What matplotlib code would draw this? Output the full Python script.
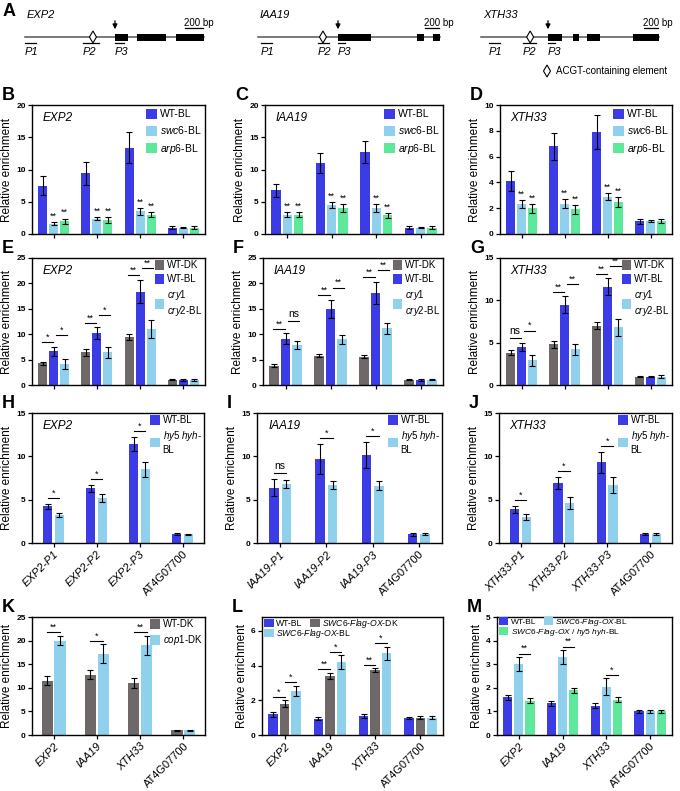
import numpy as np
import matplotlib.pyplot as plt
from matplotlib.patches import Polygon, Patch
from matplotlib.legend import Legend

plt.rcParams['font.family'] = ['Liberation Sans', 'DejaVu Sans']
plt.rcParams['mathtext.fontset'] = 'custom'
plt.rcParams['mathtext.it'] = 'Liberation Sans:italic'
plt.rcParams['mathtext.rm'] = 'Liberation Sans'
plt.rcParams['axes.linewidth'] = 1.0

W, H = 680, 791
fig = plt.figure(figsize=(6.8, 7.91), dpi=100)

# colours
BLUE = '#3c3ce6'
LBLUE = '#8fd0ec'
GREEN = '#5ee89b'
GRAY = '#6e6868'

# ---- panel A gene structures (bp, relative to TSS)
gene_names = ['EXP2', 'IAA19', 'XTH33']
gene_start = [-1000, -1145, -955]
gene_end = [990, 1460, 1585]
gene_exons = [[(0, 145), (245, 565), (680, 990)],
              [(0, 470), (1130, 1230), (1360, 1460)],
              [(0, 200), (355, 445), (555, 745), (1215, 1585)]]
acgt_pos = [-245, -215, -255]
primers = [[(-1000, -880), (-355, -180), (0, 100)],
           [(-1100, -945), (-285, -130), (0, 100)],
           [(-845, -685), (-355, -170), (0, 100)]]
primer_names = ['P1', 'P2', 'P3']

# ---- ChIP data
probes = {'EXP2': ['EXP2-P1', 'EXP2-P2', 'EXP2-P3', 'AT4G07700'],
          'IAA19': ['IAA19-P1', 'IAA19-P2', 'IAA19-P3', 'AT4G07700'],
          'XTH33': ['XTH33-P1', 'XTH33-P2', 'XTH33-P3', 'AT4G07700']}

# B-D: WT-BL, swc6-BL, arp6-BL
b_wt = [7.5, 9.4, 13.4, 1.0];   b_wt_e = [1.5, 1.8, 2.4, 0.3]
b_swc = [1.6, 2.4, 3.5, 1.0];   b_swc_e = [0.2, 0.3, 0.5, 0.1]
b_arp = [2.0, 2.2, 3.0, 1.0];   b_arp_e = [0.4, 0.5, 0.4, 0.2]
c_wt = [6.8, 11.0, 12.7, 1.0];  c_wt_e = [1.0, 1.5, 1.7, 0.2]
c_swc = [3.0, 4.5, 4.0, 1.0];   c_swc_e = [0.4, 0.5, 0.6, 0.1]
c_arp = [3.0, 4.0, 2.9, 1.0];   c_arp_e = [0.4, 0.6, 0.4, 0.2]
d_wt = [4.1, 6.8, 7.9, 1.0];    d_wt_e = [0.75, 1.05, 1.3, 0.2]
d_swc = [2.3, 2.35, 2.9, 1.0];  d_swc_e = [0.3, 0.35, 0.3, 0.1]
d_arp = [2.0, 1.9, 2.5, 1.0];   d_arp_e = [0.35, 0.35, 0.4, 0.15]

# E-G: WT-DK, WT-BL, cry1 cry2-BL
e_dk = [4.3, 6.4, 9.5, 1.0];    e_dk_e = [0.3, 0.6, 0.6, 0.1]
e_bl = [6.6, 10.2, 18.4, 1.0];  e_bl_e = [0.9, 1.2, 2.3, 0.2]
e_cry = [4.2, 6.4, 11.0, 1.0];  e_cry_e = [1.0, 1.0, 1.7, 0.2]
e_sig = [('*', '*'), ('**', '*'), ('**', '**')]
f_dk = [3.8, 5.8, 5.6, 1.0];    f_dk_e = [0.3, 0.3, 0.3, 0.1]
f_bl = [9.1, 15.0, 18.1, 1.0];  f_bl_e = [1.1, 1.8, 2.2, 0.2]
f_cry = [7.9, 9.0, 11.2, 1.0];  f_cry_e = [0.8, 0.9, 1.1, 0.1]
f_sig = [('**', 'ns'), ('**', '**'), ('**', '**')]
g_dk = [3.8, 4.8, 7.0, 1.0];    g_dk_e = [0.3, 0.4, 0.4, 0.1]
g_bl = [4.5, 9.5, 11.6, 1.0];   g_bl_e = [0.5, 1.0, 1.0, 0.1]
g_cry = [2.9, 4.2, 6.8, 1.0];   g_cry_e = [0.6, 0.6, 1.0, 0.2]
g_sig = [('ns', '*'), ('**', '**'), ('**', '**')]

# H-J: WT-BL, hy5 hyh-BL
h_bl = [4.25, 6.3, 11.4, 1.0];  h_bl_e = [0.3, 0.4, 0.8, 0.1]
h_hy = [3.25, 5.2, 8.5, 1.0];   h_hy_e = [0.2, 0.5, 0.9, 0.05]
h_sig = ['*', '*', '*']
i_bl = [6.4, 9.7, 10.2, 1.0];   i_bl_e = [1.0, 1.7, 1.5, 0.2]
i_hy = [6.8, 6.7, 6.6, 1.0];    i_hy_e = [0.5, 0.5, 0.5, 0.1]
i_sig = ['ns', '*', '*']
j_bl = [3.9, 6.9, 9.3, 1.0];    j_bl_e = [0.4, 0.7, 1.2, 0.1]
j_hy = [3.0, 4.6, 6.7, 1.0];    j_hy_e = [0.3, 0.7, 0.9, 0.1]
j_sig = ['*', '*', '*']

# K-M
km_cats = ['EXP2', 'IAA19', 'XTH33', 'AT4G07700']
k_dk = [11.5, 12.8, 11.0, 1.0];  k_dk_e = [1.0, 1.0, 1.0, 0.1]
k_cop = [20.0, 17.2, 19.0, 1.0]; k_cop_e = [1.0, 2.0, 2.0, 0.1]
k_sig = ['**', '*', '**']
l_wt = [1.2, 0.95, 1.1, 1.0];    l_wt_e = [0.15, 0.1, 0.1, 0.05]
l_oxdk = [1.8, 3.4, 3.75, 1.0];  l_oxdk_e = [0.2, 0.2, 0.1, 0.1]
l_oxbl = [2.55, 4.2, 4.7, 1.0];  l_oxbl_e = [0.3, 0.4, 0.4, 0.1]
l_sig = [('*', '*'), ('**', '*'), ('**', '*')]
m_wt = [1.6, 1.35, 1.25, 1.0];   m_wt_e = [0.1, 0.1, 0.1, 0.05]
m_oxbl = [3.0, 3.3, 2.05, 1.0];  m_oxbl_e = [0.3, 0.3, 0.35, 0.05]
m_hy = [1.45, 1.9, 1.5, 1.0];    m_hy_e = [0.1, 0.1, 0.1, 0.05]
m_sig = ['**', '**', '*']


def px_axes(x0, y0, x1, y1):
    return fig.add_axes([x0 / W, 1 - y1 / H, (x1 - x0) / W, (y1 - y0) / H])


def letter(x, y, s):
    fig.text(x / W, 1 - y / H, s, fontsize=13, fontweight='bold', va='center', ha='left')


# ---------------- panel A
axA = px_axes(0, 0, W, 85)
axA.set_xlim(0, W)
axA.set_ylim(85, 0)
axA.axis('off')
tss_px = [115, 338, 548]
px_per_bp = [0.09, 0.07, 0.07]
yl = 37


def diamond(ax, x, y):
    ax.add_patch(Polygon([(x, y - 6), (x + 3.5, y), (x, y + 6), (x - 3.5, y)],
                         closed=True, fc='white', ec='black', lw=0.8, zorder=5))


for g in range(3):
    cv = lambda bp: tss_px[g] + bp * px_per_bp[g]
    axA.plot([cv(gene_start[g]), cv(gene_end[g])], [yl, yl], color='#555555', lw=1.1, zorder=1)
    for s, e in gene_exons[g]:
        axA.fill_between([cv(s), cv(e)], yl - 3.5, yl + 3.5, color='black', lw=0, zorder=3)
    diamond(axA, cv(acgt_pos[g]), yl)
    axA.annotate('', xy=(cv(0), yl - 5), xytext=(cv(0), yl - 19),
                 arrowprops=dict(arrowstyle='-|>', color='black', lw=0.9, mutation_scale=7))
    for (s, e), pn in zip(primers[g], primer_names):
        axA.plot([cv(s), cv(e)], [yl + 6, yl + 6], color='black', lw=0.9)
        axA.text(cv(s), yl + 15, pn, fontsize=8, style='italic', ha='left', va='center')
    sb1 = cv(gene_end[g] - 15)
    sb0 = sb1 - 200 * px_per_bp[g]
    axA.plot([sb0, sb1], [yl - 9, yl - 9], color='black', lw=0.9)
    axA.text(sb0 - 1, yl - 14, '200 bp', fontsize=7, ha='left', va='center')
    axA.text(cv(gene_start[g]) + 2, 15, gene_names[g], fontsize=8, style='italic', ha='left', va='center')
diamond(axA, 547, 71)
axA.text(556, 71, 'ACGT-containing element', fontsize=7, ha='left', va='center')
letter(3, 11, 'A')


# ---------------- bar panels
def bar_panel(ax, series, errs, colors, ymax, ystep, gene=None, width=0.21, step=0.255):
    n = len(series)
    x = np.arange(4)
    offs = [(i - (n - 1) / 2) * step for i in range(n)]
    for m, e, c, o in zip(series, errs, colors, offs):
        ax.bar(x + o, m, width, color=c, yerr=e, zorder=2,
               error_kw=dict(elinewidth=0.8, capsize=2, capthick=0.8, ecolor='black'))
    ax.set_xlim(-0.5, 3.5)
    ax.set_ylim(0, ymax)
    ax.set_yticks(np.arange(0, ymax + 0.01, ystep))
    ax.set_xticks(x)
    ax.set_xticklabels([])
    ax.tick_params(axis='both', length=3, width=0.9, labelsize=6, pad=1.5)
    for t in ax.get_yticklabels():
        t.set_fontweight('bold')
    ax.set_ylabel('Relative enrichment', fontsize=8.5, labelpad=2)
    if gene:
        ax.text(0.06, 0.9, gene, transform=ax.transAxes, fontsize=8.5, style='italic', va='center')
    return x, offs


LEG = dict(frameon=False, fontsize=7, handlelength=1.0, handleheight=1.1, handletextpad=0.3,
           labelspacing=0.4, borderaxespad=0.15, borderpad=0.2)


def legend(ax, labels, colors, **kw):
    hs = [Patch(fc=c, ec='none') for c in colors]
    opts = dict(LEG, loc='upper right')
    opts.update(kw)
    return ax.legend(hs, labels, **opts)


def legend_rows(ax, rows, fs=6.2):
    # each row is a list of (label, colour); rows stacked from the top
    for r, row in enumerate(rows):
        hs = [Patch(fc=c, ec='none') for _, c in row]
        opts = dict(LEG, loc='upper left', ncol=len(row), fontsize=fs, columnspacing=0.9,
                    bbox_to_anchor=(0.0, 1.02 - r * 0.085), handlelength=1.1, handleheight=1.0,
                    borderpad=0.1)
        ax.add_artist(Legend(ax, hs, [l for l, _ in row], **opts))


def sig_line(ax, x0, x1, y, s, ymax):
    ax.plot([x0, x1], [y, y], color='black', lw=0.8)
    ax.text((x0 + x1) / 2, y + (0.003 if s != 'ns' else 0.015) * ymax, s, fontsize=6.5 if s != 'ns' else 7.5,
            ha='center', va='bottom')


lab_swc = ['WT-BL', '$\\it{swc6}$-BL', '$\\it{arp6}$-BL']
lab_cry = ['WT-DK', 'WT-BL', '$\\it{cry1}$\n$\\it{cry2}$-BL']
lab_hy = ['WT-BL', '$\\it{hy5\\ hyh}$-\nBL']

# B-D
rowBD = [(32, 205, 'B', 'EXP2', (b_wt, b_swc, b_arp), (b_wt_e, b_swc_e, b_arp_e), 20, 5),
         (265, 443, 'C', 'IAA19', (c_wt, c_swc, c_arp), (c_wt_e, c_swc_e, c_arp_e), 20, 5),
         (500, 672, 'D', 'XTH33', (d_wt, d_swc, d_arp), (d_wt_e, d_swc_e, d_arp_e), 10, 2)]
for x0, x1, L, gene, ser, err, ymax, ystep in rowBD:
    ax = px_axes(x0, 105, x1, 234)
    x, offs = bar_panel(ax, ser, err, [BLUE, LBLUE, GREEN], ymax, ystep, gene)
    legend(ax, lab_swc, [BLUE, LBLUE, GREEN], fontsize=7.5, labelspacing=0.5)
    for k in range(3):
        for j in (1, 2):
            ax.text(x[k] + offs[j], ser[j][k] + err[j][k] + 0.01 * ymax, '**', fontsize=6.5,
                    ha='center', va='bottom')
    letter(x0 - 30, 95, L)

# E-G
rowEG = [(32, 205, 'E', 'EXP2', (e_dk, e_bl, e_cry), (e_dk_e, e_bl_e, e_cry_e), 25, 5, e_sig),
         (263, 443, 'F', 'IAA19', (f_dk, f_bl, f_cry), (f_dk_e, f_bl_e, f_cry_e), 25, 5, f_sig),
         (500, 672, 'G', 'XTH33', (g_dk, g_bl, g_cry), (g_dk_e, g_bl_e, g_cry_e), 15, 5, g_sig)]
for x0, x1, L, gene, ser, err, ymax, ystep, sig in rowEG:
    ax = px_axes(x0, 258, x1, 385)
    x, offs = bar_panel(ax, ser, err, [GRAY, BLUE, LBLUE], ymax, ystep, gene)
    legend(ax, lab_cry, [GRAY, BLUE, LBLUE], borderaxespad=0.05)
    for k in range(3):
        top = max(ser[i][k] + err[i][k] for i in range(3))
        y1 = top + 0.035 * ymax
        y2 = y1 + 0.06 * ymax
        sig_line(ax, x[k] + offs[0] - 0.02, x[k] + offs[1] - 0.02, y1, sig[k][0], ymax)
        sig_line(ax, x[k] + offs[1] + 0.05, x[k] + offs[2] + 0.05, y2, sig[k][1], ymax)
    letter(x0 - 30, 248, L)

# H-J
rowHJ = [(32, 204, 'H', 'EXP2', (h_bl, h_hy), (h_bl_e, h_hy_e), h_sig),
         (257, 442, 'I', 'IAA19', (i_bl, i_hy), (i_bl_e, i_hy_e), i_sig),
         (499, 672, 'J', 'XTH33', (j_bl, j_hy), (j_bl_e, j_hy_e), j_sig)]
for x0, x1, L, gene, ser, err, sig in rowHJ:
    ax = px_axes(x0, 413, x1, 543)
    x, offs = bar_panel(ax, ser, err, [BLUE, LBLUE], 15, 5, gene, step=0.27)
    legend(ax, lab_hy, [BLUE, LBLUE], borderaxespad=0.05)
    ax.set_xticklabels(probes[gene], rotation=45, ha='right', rotation_mode='anchor', fontsize=8)
    for t in ax.get_xticklabels()[:3]:
        t.set_fontstyle('italic')
    for k in range(3):
        top = max(ser[i][k] + err[i][k] for i in range(2))
        sig_line(ax, x[k] + offs[0], x[k] + offs[1], top + 0.045 * 15, sig[k], 15)
    letter(x0 - 30, 403, L)


def km_labels(ax):
    ax.set_xticklabels(km_cats, rotation=45, ha='right', rotation_mode='anchor', fontsize=8)
    for t in ax.get_xticklabels()[:3]:
        t.set_fontstyle('italic')


# K
ax = px_axes(32, 617, 205, 735)
x, offs = bar_panel(ax, (k_dk, k_cop), (k_dk_e, k_cop_e), [GRAY, LBLUE], 25, 5, step=0.3, width=0.26)
legend(ax, ['WT-DK', '$\\it{cop1}$-DK'], [GRAY, LBLUE], borderaxespad=0.05)
km_labels(ax)
for k in range(3):
    top = max(k_dk[k] + k_dk_e[k], k_cop[k] + k_cop_e[k])
    sig_line(ax, x[k] + offs[0], x[k] + offs[1], top + 0.03 * 25, k_sig[k], 25)
letter(2, 607, 'K')

ox = '$\\it{SWC6}$-$\\it{Flag}$-$\\it{OX}$'
# L
ax = px_axes(262, 617, 443, 735)
x, offs = bar_panel(ax, (l_wt, l_oxdk, l_oxbl), (l_wt_e, l_oxdk_e, l_oxbl_e), [BLUE, GRAY, LBLUE], 6.8, 2)
legend_rows(ax, [[('WT-BL', BLUE), (ox + '-DK', GRAY)], [(ox + '-BL', LBLUE)]])
km_labels(ax)
for k in range(3):
    top = max(l_wt[k] + l_wt_e[k], l_oxdk[k] + l_oxdk_e[k])
    top2 = max(l_oxbl[k] + l_oxbl_e[k], l_oxdk[k] + l_oxdk_e[k])
    sig_line(ax, x[k] + offs[0], x[k] + offs[1], top + 0.03 * 6.8, l_sig[k][0], 6.8)
    sig_line(ax, x[k] + offs[1], x[k] + offs[2], top2 + 0.03 * 6.8, l_sig[k][1], 6.8)
letter(232, 607, 'L')

# M
ax = px_axes(497, 617, 672, 735)
x, offs = bar_panel(ax, (m_wt, m_oxbl, m_hy), (m_wt_e, m_oxbl_e, m_hy_e), [BLUE, LBLUE, GREEN], 5, 1)
legend_rows(ax, [[('WT-BL', BLUE), (ox + '-BL', LBLUE)],
                 [(ox + ' / $\\it{hy5\\ hyh}$-BL', GREEN)]], fs=6.0)
km_labels(ax)
for k in range(3):
    top2 = max(m_oxbl[k] + m_oxbl_e[k], m_hy[k] + m_hy_e[k])
    sig_line(ax, x[k] + offs[1], x[k] + offs[2], top2 + 0.03 * 5, m_sig[k], 5)
letter(467, 607, 'M')

fig.savefig('out.png', dpi=100)
